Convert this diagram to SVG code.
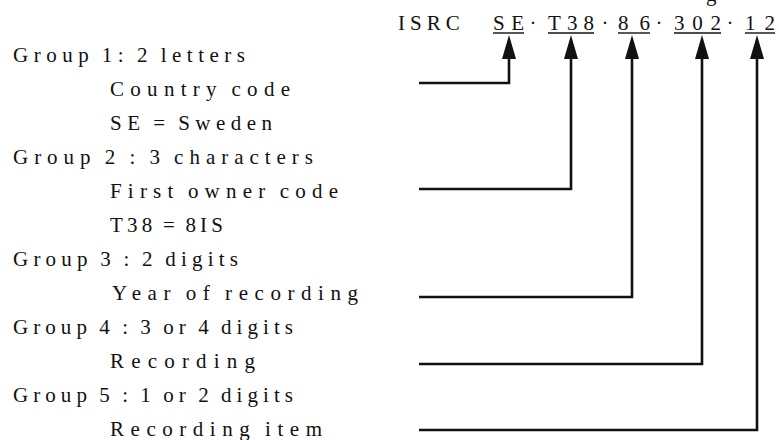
<svg xmlns="http://www.w3.org/2000/svg" width="779" height="440" viewBox="0 0 779 440">
<style>
text{font-family:"Liberation Serif","Times New Roman",serif;font-size:21px;fill:#111}
.l{letter-spacing:5px;word-spacing:-3px}
.h{letter-spacing:5px}
.c{fill:none;stroke:#111;stroke-width:2.6}
.u{stroke:#111;stroke-width:1.4}
</style>
<defs>
<marker id="ah" markerUnits="userSpaceOnUse" viewBox="0 0 24 14" refX="0" refY="7" markerWidth="24" markerHeight="14" orient="auto">
<path d="M0,0 L24,7 L0,14 z" fill="#111"/>
</marker>
</defs>
<rect width="779" height="440" fill="#fff"/>
<g id="header">
<text x="706" y="0.5">g</text>
<text class="h" x="398" y="30">ISRC</text>
<text x="493" y="30" textLength="31" lengthAdjust="spacing">SE</text>
<text x="533" y="30" text-anchor="middle">·</text>
<text x="548" y="30" textLength="46" lengthAdjust="spacing">T38</text>
<text x="605" y="30" text-anchor="middle">·</text>
<text x="618" y="30" textLength="32" lengthAdjust="spacing">86</text>
<text x="659" y="30" text-anchor="middle">·</text>
<text x="674" y="30" textLength="47" lengthAdjust="spacing">302</text>
<text x="730" y="30" text-anchor="middle">·</text>
<text x="745" y="30" textLength="30" lengthAdjust="spacing">12</text>
<line class="u" x1="493" y1="33" x2="524" y2="33"/>
<line class="u" x1="548" y1="33" x2="594" y2="33"/>
<line class="u" x1="618" y1="33" x2="650" y2="33"/>
<line class="u" x1="674" y1="33" x2="721" y2="33"/>
<line class="u" x1="745" y1="33" x2="775" y2="33"/>
</g>
<g id="group1">
<text class="l" x="13" y="62" textLength="237" lengthAdjust="spacing">Group 1: 2 letters</text>
<text class="l" x="110" y="96" textLength="185" lengthAdjust="spacing">Country code</text>
<text class="l" x="110" y="130" textLength="167" lengthAdjust="spacing">SE = Sweden</text>
</g>
<g id="group2">
<text class="l" x="13" y="164" textLength="305" lengthAdjust="spacing">Group 2 : 3 characters</text>
<text class="l" x="110" y="198" textLength="233" lengthAdjust="spacing">First owner code</text>
<text class="l" x="110" y="232" textLength="118" lengthAdjust="spacing">T38 = 8IS</text>
</g>
<g id="group3">
<text class="l" x="13" y="266" textLength="230" lengthAdjust="spacing">Group 3 : 2 digits</text>
<text class="l" x="112" y="300" textLength="251" lengthAdjust="spacing">Year of recording</text>
</g>
<g id="group4">
<text class="l" x="13" y="334" textLength="285" lengthAdjust="spacing">Group 4 : 3 or 4 digits</text>
<text class="l" x="110" y="368" textLength="150" lengthAdjust="spacing">Recording</text>
</g>
<g id="group5">
<text class="l" x="13" y="402" textLength="285" lengthAdjust="spacing">Group 5 : 1 or 2 digits</text>
<text class="l" x="110" y="436" textLength="217" lengthAdjust="spacing">Recording item</text>
</g>
<g id="connectors">
<path class="c" d="M419,83 H509 V59" marker-end="url(#ah)"/>
<path class="c" d="M419,189 H571 V59" marker-end="url(#ah)"/>
<path class="c" d="M419,297 H632 V59" marker-end="url(#ah)"/>
<path class="c" d="M419,364 H702 V59" marker-end="url(#ah)"/>
<path class="c" d="M419,430 H757 V59" marker-end="url(#ah)"/>
</g>
</svg>
